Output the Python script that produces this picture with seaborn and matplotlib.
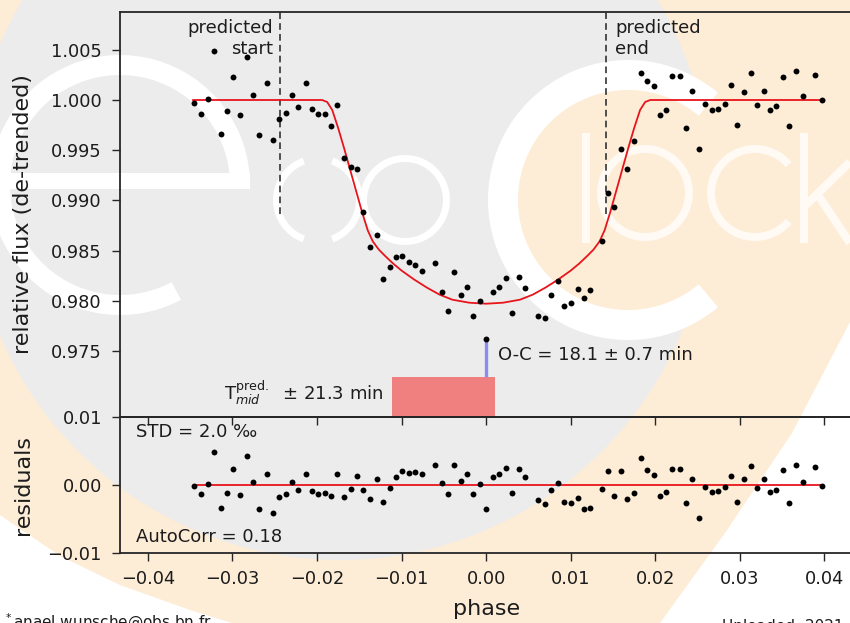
import numpy as np
import pandas as pd
import matplotlib
matplotlib.use("Agg")
import matplotlib.pyplot as plt
import seaborn as sns
from matplotlib.patches import Circle, Wedge, Rectangle, Polygon

# ---------------- data ----------------
phase = [-0.03452, -0.03372, -0.03290, -0.03219, -0.03141, -0.03065, -0.02994, -0.02908, -0.02829, -0.02758,
         -0.02683, -0.02597, -0.02521, -0.02447, -0.02372, -0.02293, -0.02222, -0.02136, -0.02057, -0.01986,
         -0.01911, -0.01836, -0.01765, -0.01682, -0.01599, -0.01528, -0.01454, -0.01375, -0.01292, -0.01217,
         -0.01143, -0.01064, -0.00993, -0.00914, -0.00839, -0.00757, -0.00606, -0.00528, -0.00457, -0.00375,
         -0.00299, -0.00225, -0.00150, -0.00071, 0.00004, 0.00079, 0.00157, 0.00233, 0.00311, 0.00390,
         0.00461, 0.00618, 0.00694, 0.00768, 0.00851, 0.00922, 0.01001, 0.01084, 0.01155, 0.01229,
         0.01371, 0.01442, 0.01517, 0.01596, 0.01667, 0.01746, 0.01829, 0.01903, 0.01982, 0.02057,
         0.02131, 0.02202, 0.02290, 0.02364, 0.02439, 0.02514, 0.02589, 0.02668, 0.02746, 0.02821,
         0.02900, 0.02970, 0.03053, 0.03129, 0.03207, 0.03283, 0.03357, 0.03431, 0.03507, 0.03585,
         0.03668, 0.03744, 0.03889, 0.03968]

flux = [0.99973, 0.99863, 1.00010, 1.00488, 0.99658, 0.99887, 1.00226, 0.99847, 1.00425, 1.00047,
        0.99648, 1.00166, 0.99598, 0.99811, 0.99874, 1.00047, 0.99930, 1.00166, 0.99910, 0.99857,
        0.99863, 0.99738, 0.99947, 0.99425, 0.99335, 0.99309, 0.98884, 0.98532, 0.98652, 0.98219,
        0.98333, 0.98432, 0.98448, 0.98382, 0.98356, 0.98299, 0.98373, 0.98084, 0.97894, 0.98289,
        0.98054, 0.98137, 0.97851, 0.97997, 0.97621, 0.98084, 0.98137, 0.98229, 0.97874, 0.98239,
        0.98127, 0.97851, 0.97831, 0.98054, 0.98196, 0.97947, 0.97974, 0.98114, 0.98024, 0.98104,
        0.98595, 0.99070, 0.98931, 0.99515, 0.99309, 0.99588, 1.00266, 1.00192, 1.00137, 0.99847,
        0.99900, 1.00236, 1.00236, 0.99721, 1.00090, 0.99515, 0.99963, 0.99903, 0.99913, 0.99963,
        1.00146, 0.99748, 1.00083, 1.00272, 0.99947, 1.00093, 0.99903, 0.99937, 1.00226, 0.99738,
        1.00289, 1.00037, 1.00246, 0.99997]

residuals = [-0.00020, -0.00127, 0.00015, 0.00485, -0.00343, -0.00118, 0.00230, -0.00152, 0.00431, 0.00044,
             -0.00353, 0.00162, -0.00407, -0.00181, -0.00127, 0.00044, -0.00078, 0.00162, -0.00083, -0.00132,
             -0.00123, -0.00162, 0.00162, -0.00181, -0.00064, 0.00127, -0.00074, -0.00206, 0.00088, -0.00245,
             -0.00049, 0.00113, 0.00201, 0.00172, 0.00196, 0.00167, 0.00294, 0.00034, -0.00132, 0.00289,
             0.00059, 0.00157, -0.00127, 0.00020, -0.00353, 0.00113, 0.00157, 0.00245, -0.00113, 0.00235,
             0.00113, -0.00221, -0.00275, -0.00074, 0.00034, -0.00255, -0.00270, -0.00196, -0.00353, -0.00343,
             -0.00059, 0.00206, -0.00157, 0.00206, -0.00211, -0.00113, 0.00402, 0.00221, 0.00142, -0.00157,
             -0.00103, 0.00240, 0.00230, -0.00270, 0.00093, -0.00490, -0.00034, -0.00103, -0.00093, -0.00034,
             0.00137, -0.00245, 0.00083, 0.00275, -0.00049, 0.00093, -0.00108, -0.00069, 0.00225, -0.00260,
             0.00294, 0.00044, 0.00260, -0.00010]

model_phase = [-0.0347, -0.0194, -0.0188, -0.0182, -0.0175, -0.0168, -0.0161, -0.0154, -0.0147, -0.0140,
               -0.0134, -0.0127, -0.0120, -0.0110, -0.0100, -0.0085, -0.0070, -0.0055, -0.0040, -0.0020,
               0.0000, 0.0020, 0.0040, 0.0055, 0.0070, 0.0085, 0.0100, 0.0110, 0.0120, 0.0127,
               0.0134, 0.0140, 0.0147, 0.0154, 0.0161, 0.0168, 0.0175, 0.0182, 0.0188, 0.0194, 0.0400]
model_flux = [1.0000, 1.0000, 0.9998, 0.9990, 0.9972, 0.9952, 0.9931, 0.9910, 0.9889, 0.9870,
              0.9859, 0.9851, 0.9845, 0.9837, 0.9830, 0.9821, 0.9813, 0.9806, 0.9801, 0.9798,
              0.9797, 0.9798, 0.9801, 0.9806, 0.9813, 0.9821, 0.9830, 0.9837, 0.9845, 0.9851,
              0.9859, 0.9870, 0.9889, 0.9910, 0.9931, 0.9952, 0.9972, 0.9990, 0.9998, 1.0000, 1.0000]

predicted_start = -0.02435
predicted_end = 0.01418
tmid_pred = -0.00508
tmid_pred_err = 0.00607
oc_flux = 0.9762
bar_top = 0.9724

flux_ticks = [0.975, 0.980, 0.985, 0.990, 0.995, 1.000, 1.005]
res_ticks = [-0.01, 0.00, 0.01]
phase_ticks = [-0.04, -0.03, -0.02, -0.01, 0.00, 0.01, 0.02, 0.03, 0.04]

# ---------------- figure ----------------
sns.set_style("ticks")
plt.rcParams["font.family"] = ["DejaVu Sans"]
W, H = 850, 623
fig = plt.figure(figsize=(W / 100, H / 100), dpi=100, facecolor="white")

# background watermark (logo), in pixel units of the figure
bg = fig.add_axes([0, 0, 1, 1], zorder=-10)
bg.set_xlim(0, W)
bg.set_ylim(H, 0)
bg.axis("off")
PEACH = "#fdecd6"
GRAY = "#ececec"
LETTER = "#fffaf4"
bg.add_patch(Polygon([(850, 0), (850, 322), (792, 433), (725, 533), (660, 623),
                      (232, 623), (190, 610), (120, 585), (60, 556), (0, 515), (0, 0)],
                     closed=True, color=PEACH, lw=0))
bg.add_patch(Circle((340, 190), 370, color=GRAY, lw=0))
# "e"
bg.add_patch(Wedge((120, 185), 130, 62, 360, width=20, color="white", lw=0))
bg.add_patch(Rectangle((-10, 173), 260, 16, color="white", lw=0))
# "xo"
bg.add_patch(Wedge((318, 200), 45, 110, 250, width=7, color="white", lw=0))
bg.add_patch(Wedge((318, 200), 45, -70, 70, width=7, color="white", lw=0))
bg.add_patch(Wedge((405, 200), 45, 0, 360, width=7, color="white", lw=0))
# big "C" crescent: peach inside, white rim
bg.add_patch(Circle((628, 200), 113, color=PEACH, lw=0))
bg.add_patch(Wedge((628, 200), 140, 0, 360, width=28, color=PEACH, lw=0))
bg.add_patch(Wedge((628, 200), 140, 50, 310, width=30, color="white", lw=0))
# "lock"
bg.add_patch(Rectangle((582, 133), 8, 110, color=LETTER, lw=0))
bg.add_patch(Wedge((645, 193), 48, 0, 360, width=8, color=LETTER, lw=0))
bg.add_patch(Wedge((755, 193), 48, 40, 320, width=8, color=LETTER, lw=0))
bg.add_patch(Rectangle((800, 133), 8, 110, color=LETTER, lw=0))
bg.plot([806, 850], [205, 162], color=LETTER, lw=6, solid_capstyle="butt")
bg.plot([818, 850], [195, 243], color=LETTER, lw=6, solid_capstyle="butt")

TXT = "#1c1c1c"
SP = "#262626"


def style(ax):
    ax.set_facecolor("none")
    for s in ax.spines.values():
        s.set_color(SP)
        s.set_linewidth(1.3)
    ax.tick_params(direction="out", length=6, width=1.0, colors=SP, labelcolor=TXT, labelsize=12.8)
    ax.tick_params(axis="x", pad=6.5)
    ax.tick_params(axis="y", pad=7)


x0 = 120 / W
w = (853 - 120) / W
ax1 = fig.add_axes([x0, 1 - 417 / H, w, (417 - 12) / H])
ax2 = fig.add_axes([x0, 1 - 553 / H, w, (553 - 417) / H])
for ax in (ax1, ax2):
    style(ax)
    ax.set_xlim(-0.04330, 0.04338)
    ax.set_xticks(phase_ticks)

# --- top panel
sns.scatterplot(x=phase, y=flux, ax=ax1, color="black", s=18, linewidth=0, zorder=4)
sns.lineplot(x=model_phase, y=model_flux, ax=ax1, color="#e8141c", lw=1.3, sort=False, zorder=3)
ax1.set_ylim(0.96841, 1.00877)
ax1.set_yticks(flux_ticks)
ax1.set_yticklabels([f"{v:.3f}" for v in flux_ticks])
ax1.set_xticklabels([])
ax1.set_ylabel("relative flux (de-trended)", fontsize=16, color=TXT)

ax1.vlines([predicted_start, predicted_end], 0.98865, 1.00877, colors="#333333",
           linestyles=(0, (4, 2.5)), lw=1.2, zorder=2)
ax1.text(predicted_start - 0.0009, 1.00805, "predicted\nstart", ha="right", va="top",
         fontsize=13, color=TXT, multialignment="right")
ax1.text(predicted_end + 0.0011, 1.00805, "predicted\nend", ha="left", va="top",
         fontsize=13, color=TXT, multialignment="left")

ax1.bar([tmid_pred], [bar_top - 0.96841], width=2 * tmid_pred_err, bottom=0.96841,
        color="#f08080", lw=0, zorder=2)
ax1.vlines([0.0], bar_top, oc_flux, colors="#8c8cf0", lw=2.4, zorder=3)
ax1.text(0.00138, 0.97459, "O-C = 18.1 ± 0.7 min", ha="left", va="center", fontsize=13, color=TXT)
ax1.text(-0.01218, 0.97080, r"T$^{\mathrm{pred.}}_{mid}$  ± 21.3 min", ha="right", va="center",
         fontsize=13, color=TXT)

# --- residual panel
sns.scatterplot(x=phase, y=residuals, ax=ax2, color="black", s=18, linewidth=0, zorder=4)
sns.lineplot(x=phase, y=[0.0] * len(phase), ax=ax2, color="#e8141c", lw=1.3, sort=False, zorder=3)
ax2.set_ylim(-0.01, 0.01)
ax2.set_yticks(res_ticks)
ax2.set_yticklabels(["\u22120.01", "0.00", "0.01"])
ax2.set_xticklabels([("\u2212" if v < 0 else "") + f"{abs(v):.2f}" for v in phase_ticks])
ax2.set_ylabel("residuals", fontsize=16, color=TXT)
ax2.set_xlabel("phase", fontsize=16, color=TXT, labelpad=8)
ax2.text(0.022, 0.89, "STD = 2.0 \u2030", transform=ax2.transAxes, ha="left", va="center",
         fontsize=13, color=TXT)
ax2.text(0.022, 0.115, "AutoCorr = 0.18", transform=ax2.transAxes, ha="left", va="center",
         fontsize=13, color=TXT)

ax1.yaxis.set_label_coords(-0.119, 0.5)
ax2.yaxis.set_label_coords(-0.119, 0.5)

fig.text(3 / W, 1 - 628 / H, r"$^*$anael.wunsche@obs.bn.fr", ha="left", va="baseline",
         fontsize=11, color=TXT)
fig.text(722 / W, 1 - 631 / H, "Uploaded: 2021-06", ha="left", va="baseline",
         fontsize=11, color=TXT)

fig.savefig("out.png", dpi=100, facecolor="white")
